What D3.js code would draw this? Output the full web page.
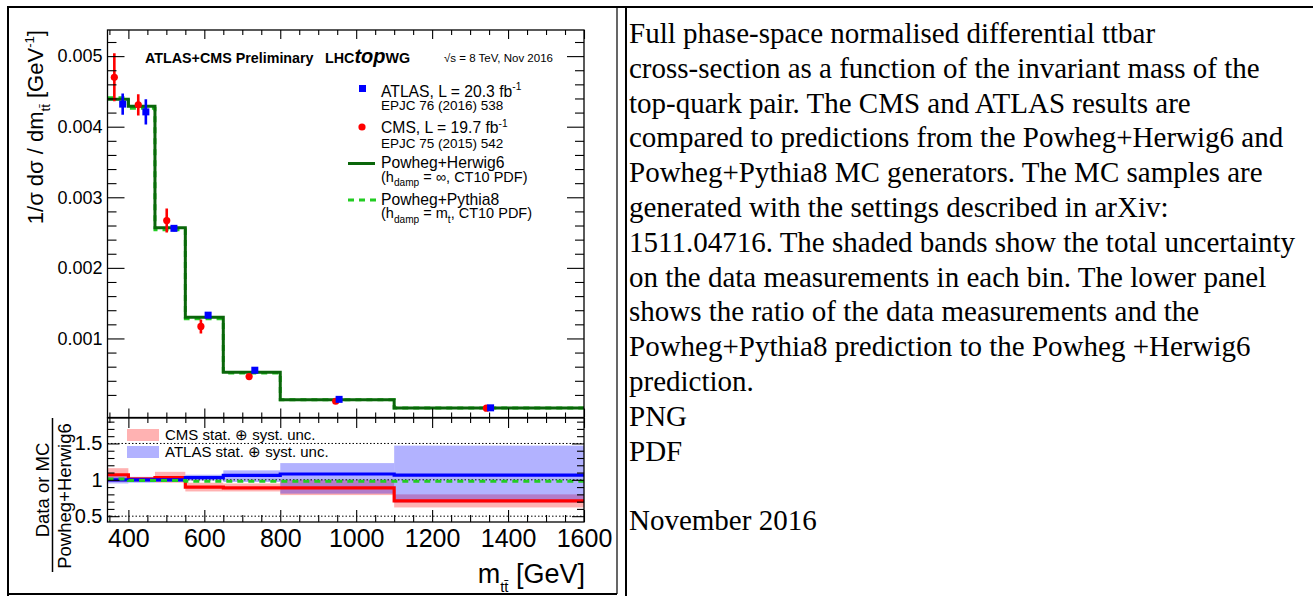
<!DOCTYPE html>
<html>
<head>
<meta charset="utf-8">
<script src="https://cdn.jsdelivr.net/npm/d3@7"></script>
<style>
  body { margin: 0; background: #fff; }
  svg { display: block; }
  text { font-family: "Liberation Sans", Arial, sans-serif; fill: #000; }
  .caption text { font-family: "Liberation Serif", "Times New Roman", serif; }
</style>
</head>
<body>
<svg id="page" width="1313" height="596"></svg>
<script>
// m(ttbar) bins and values
var binEdges = [345, 400, 470, 550, 650, 800, 1100, 1600];
var herwig = [0.00439, 0.00429, 0.00257, 0.00130, 0.00052, 0.000133, 0.000016];
var pythia = [0.00441, 0.00426, 0.00254, 0.00128, 0.00051, 0.000130, 0.000015];

var atlasX = [385, 446, 520, 610, 733, 955, 1354];
var atlasY = [0.00432, 0.00421, 0.00256, 0.00133, 0.00055, 0.000137, 0.000017];
var atlasErr = [0.00015, 0.00018, 0.00004, 0.00003, 0.00002, 0.00001, 0.000003];

var cmsX = [363, 426, 501, 591, 718, 946, 1343];
var cmsY = [0.00470, 0.00431, 0.00267, 0.00117, 0.00046, 0.00011, 0.000012];
var cmsErr = [0.00034, 0.00015, 0.00017, 0.00010, 0.00002, 0.00001, 0.000002];

// ratio panel (data or MC / Powheg+Herwig6)
var cmsRatio = [1.07, 1.01, 1.03, 0.90, 0.89, 0.89, 0.71];
var cmsLo = [0.97, 0.97, 0.96, 0.84, 0.84, 0.79, 0.62];
var cmsHi = [1.16, 1.04, 1.11, 0.96, 0.95, 1.00, 0.80];
var atlasRatio = [1.00, 1.00, 1.00, 1.03, 1.06, 1.08, 1.065];
var atlasLo = [0.95, 0.96, 0.97, 0.99, 0.97, 0.81, 0.69];
var atlasHi = [1.05, 1.04, 1.03, 1.07, 1.13, 1.23, 1.47];
var pythiaRatio = [1.01, 0.99, 0.99, 0.98, 0.98, 0.98, 0.98];

var topTicks = [0.001, 0.002, 0.003, 0.004, 0.005];
var ratioTicks = [0.5, 1, 1.5];
var massTicks = [400, 600, 800, 1000, 1200, 1400, 1600];

var captionLines = [
  "Full phase-space normalised differential ttbar",
  "cross-section as a function of the invariant mass of the",
  "top-quark pair. The CMS and ATLAS results are",
  "compared to predictions from the Powheg+Herwig6 and",
  "Powheg+Pythia8 MC generators. The MC samples are",
  "generated with the settings described in arXiv:",
  "1511.04716. The shaded bands show the total uncertainty",
  "on the data measurements in each bin. The lower panel",
  "shows the ratio of the data measurements and the",
  "Powheg+Pythia8 prediction to the Powheg +Herwig6",
  "prediction.",
  "PNG",
  "PDF",
  "",
  "November 2016"
];

var RED = "#ff0000", BLUE = "#0000ff", DKGREEN = "#0a660a", LTGREEN = "#22cc22";

var svg = d3.select("#page");

// table cell borders
var frame = svg.append("g").attr("stroke", "#000").attr("fill", "none");
frame.append("path").attr("stroke-width", 2).attr("d", "M8,596V7H1313");
frame.append("path").attr("stroke-width", 2).attr("d", "M8,594H617");
frame.append("path").attr("stroke-width", 1.2).attr("d", "M617,7V594");
frame.append("path").attr("stroke-width", 2).attr("d", "M626,7V596");

// scales
var x = d3.scaleLinear().domain([345, 1600]).range([107.5, 584]);
var yTop = d3.scaleLinear().domain([-0.00012, 0.00537]).range([417.5, 30]);
var yRat = d3.scaleLinear().domain([0.42, 1.85]).range([522, 418]);

var defs = svg.append("defs");
defs.append("clipPath").attr("id", "clipTop").append("rect")
  .attr("x", x.range()[0]).attr("y", yTop.range()[1])
  .attr("width", x.range()[1] - x.range()[0]).attr("height", yTop.range()[0] - yTop.range()[1]);
defs.append("clipPath").attr("id", "clipRat").append("rect")
  .attr("x", x.range()[0]).attr("y", yRat.range()[1])
  .attr("width", x.range()[1] - x.range()[0]).attr("height", yRat.range()[0] - yRat.range()[1]);

function stepPoints(vals) {
  var pts = vals.map(function(v, i) { return [binEdges[i], v]; });
  pts.push([binEdges[binEdges.length - 1], vals[vals.length - 1]]);
  return pts;
}

function richText(g, px, py, parts, size, anchor) {
  var t = g.append("text").attr("x", px).attr("y", py)
    .attr("font-size", size).attr("text-anchor", anchor || "start");
  var shift = 0;
  parts.forEach(function(p) {
    var target = p.sup ? -0.42 * size : (p.sub ? 0.32 * size : 0);
    var ts = t.append("tspan").text(p.t).attr("dy", target - shift);
    shift = target;
    if (p.sup || p.sub) ts.attr("font-size", size * (p.scale || 0.65));
    if (p.bold) ts.attr("font-weight", "bold");
    if (p.italic) ts.attr("font-style", "italic");
    if (p.size) ts.attr("font-size", p.size);
  });
  return t;
}

function tickAxis(g, axis, vals, size, fmt, pad) {
  g.call(axis.tickValues(vals).tickSize(size).tickPadding(pad || 3).tickFormat(fmt || ""));
  g.select(".domain").remove();
  g.selectAll(".tick line").attr("stroke", "#000").attr("stroke-width", 1.1);
  return g;
}

var minorMass = d3.range(350, 1601, 50).filter(function(v) { return v % 200 !== 0; });
var minorTop = d3.range(0, 0.0053, 0.0002).filter(function(v) { return Math.abs(v * 1000 - Math.round(v * 1000)) > 1e-6; });
var minorRat = d3.range(0.5, 1.81, 0.1).filter(function(v) { return Math.abs(v * 2 - Math.round(v * 2)) > 1e-6; });

// ---------- upper panel ----------
var upper = svg.append("g");
var upperPlot = upper.append("g").attr("clip-path", "url(#clipTop)");

var lineTop = d3.line().curve(d3.curveStepAfter)
  .x(function(d) { return x(d[0]); }).y(function(d) { return yTop(d[1]); });

upperPlot.append("path").attr("d", lineTop(stepPoints(pythia)))
  .attr("fill", "none").attr("stroke", LTGREEN).attr("stroke-width", 3).attr("stroke-dasharray", "6,5");
upperPlot.append("path").attr("d", lineTop(stepPoints(herwig)))
  .attr("fill", "none").attr("stroke", DKGREEN).attr("stroke-width", 3);

// CMS points
upperPlot.selectAll(".cmsErr").data(cmsY).enter().append("line")
  .attr("x1", function(d, i) { return x(cmsX[i]); }).attr("x2", function(d, i) { return x(cmsX[i]); })
  .attr("y1", function(d, i) { return yTop(d + cmsErr[i]); }).attr("y2", function(d, i) { return yTop(d - cmsErr[i]); })
  .attr("stroke", RED).attr("stroke-width", 2.6);
upperPlot.selectAll(".cmsPt").data(cmsY).enter().append("circle")
  .attr("cx", function(d, i) { return x(cmsX[i]); }).attr("cy", function(d) { return yTop(d); })
  .attr("r", 3.6).attr("fill", RED);

// ATLAS points
upperPlot.selectAll(".atlErr").data(atlasY).enter().append("line")
  .attr("x1", function(d, i) { return x(atlasX[i]); }).attr("x2", function(d, i) { return x(atlasX[i]); })
  .attr("y1", function(d, i) { return yTop(d + atlasErr[i]); }).attr("y2", function(d, i) { return yTop(d - atlasErr[i]); })
  .attr("stroke", BLUE).attr("stroke-width", 2.6);
upperPlot.selectAll(".atlPt").data(atlasY).enter().append("rect")
  .attr("x", function(d, i) { return x(atlasX[i]) - 3.5; }).attr("y", function(d) { return yTop(d) - 3.5; })
  .attr("width", 7).attr("height", 7).attr("fill", BLUE);

// axes of upper panel
tickAxis(upper.append("g").attr("transform", "translate(" + x.range()[0] + ",0)"), d3.axisLeft(yTop), minorTop, -9);
tickAxis(upper.append("g").attr("transform", "translate(" + x.range()[0] + ",0)"), d3.axisLeft(yTop), topTicks, -17, d3.format(".3f"), 5)
  .selectAll("text").attr("font-size", 18);
tickAxis(upper.append("g").attr("transform", "translate(" + x.range()[1] + ",0)"), d3.axisRight(yTop), minorTop, -9);
tickAxis(upper.append("g").attr("transform", "translate(" + x.range()[1] + ",0)"), d3.axisRight(yTop), topTicks, -17);
tickAxis(upper.append("g").attr("transform", "translate(0," + yTop.range()[1] + ")"), d3.axisTop(x), minorMass, -5);
tickAxis(upper.append("g").attr("transform", "translate(0," + yTop.range()[1] + ")"), d3.axisTop(x), massTicks, -9);
tickAxis(upper.append("g").attr("transform", "translate(0," + yTop.range()[0] + ")"), d3.axisBottom(x), minorMass, -5);
tickAxis(upper.append("g").attr("transform", "translate(0," + yTop.range()[0] + ")"), d3.axisBottom(x), massTicks, -9);
upper.append("rect").attr("x", x.range()[0]).attr("y", yTop.range()[1])
  .attr("width", x.range()[1] - x.range()[0]).attr("height", yTop.range()[0] - yTop.range()[1])
  .attr("fill", "none").attr("stroke", "#000").attr("stroke-width", 1.3);

// y title
richText(upper.append("g").attr("transform", "translate(43,30) rotate(-90)"), 0, 0, [
  { t: "1/\u03c3 d\u03c3 / dm" }, { t: "tt\u0304", sub: true, scale: 0.6 },
  { t: " [GeV" }, { t: "-1", sup: true, scale: 0.6 }, { t: "]" }
], 22, "end");

// header
richText(upper, 145, 63, [{ t: "ATLAS+CMS Preliminary", bold: true }], 14.3);
richText(upper, 325, 63, [{ t: "LHC", bold: true }, { t: "top", bold: true, italic: true, size: 20 }, { t: "WG", bold: true }], 14.3);
richText(upper, 444, 62, [{ t: "\u221as = 8 TeV, Nov 2016" }], 11.5);

// legend
var leg = upper.append("g");
leg.append("rect").attr("x", 359).attr("y", 85).attr("width", 7).attr("height", 7).attr("fill", BLUE);
richText(leg, 381, 96.5, [{ t: "ATLAS, L = 20.3 fb" }, { t: "-1", sup: true }], 15.7);
richText(leg, 381, 110, [{ t: "EPJC 76 (2016) 538" }], 13.5);
leg.append("circle").attr("cx", 362).attr("cy", 127).attr("r", 3.6).attr("fill", RED);
richText(leg, 381, 133.3, [{ t: "CMS, L = 19.7 fb" }, { t: "-1", sup: true }], 15.7);
richText(leg, 381, 147.7, [{ t: "EPJC 75 (2015) 542" }], 13.5);
leg.append("line").attr("x1", 348).attr("x2", 375).attr("y1", 163.5).attr("y2", 163.5)
  .attr("stroke", DKGREEN).attr("stroke-width", 3);
richText(leg, 381, 168.3, [{ t: "Powheg+Herwig6" }], 15.7);
richText(leg, 381, 181.7, [{ t: "(h" }, { t: "damp", sub: true, scale: 0.7 }, { t: " = \u221e, CT10 PDF)" }], 14.5);
leg.append("line").attr("x1", 348).attr("x2", 377).attr("y1", 200).attr("y2", 200)
  .attr("stroke", LTGREEN).attr("stroke-width", 3).attr("stroke-dasharray", "6,5");
richText(leg, 381, 204.5, [{ t: "Powheg+Pythia8" }], 15.7);
richText(leg, 381, 218, [{ t: "(h" }, { t: "damp", sub: true, scale: 0.7 }, { t: " = m" }, { t: "t", sub: true, scale: 0.7 }, { t: ", CT10 PDF)" }], 14.5);

// ---------- ratio panel ----------
var bot = svg.append("g");
var botPlot = bot.append("g").attr("clip-path", "url(#clipRat)");
var bins = d3.range(binEdges.length - 1);

botPlot.selectAll(".cmsBand").data(bins).enter().append("rect")
  .attr("x", function(i) { return x(binEdges[i]); })
  .attr("width", function(i) { return x(binEdges[i + 1]) - x(binEdges[i]); })
  .attr("y", function(i) { return yRat(cmsHi[i]); })
  .attr("height", function(i) { return yRat(cmsLo[i]) - yRat(cmsHi[i]); })
  .attr("fill", RED).attr("fill-opacity", 0.3);
botPlot.selectAll(".atlBand").data(bins).enter().append("rect")
  .attr("x", function(i) { return x(binEdges[i]); })
  .attr("width", function(i) { return x(binEdges[i + 1]) - x(binEdges[i]); })
  .attr("y", function(i) { return yRat(atlasHi[i]); })
  .attr("height", function(i) { return yRat(atlasLo[i]) - yRat(atlasHi[i]); })
  .attr("fill", BLUE).attr("fill-opacity", 0.3);

botPlot.selectAll(".ref").data(ratioTicks).enter().append("line")
  .attr("x1", x.range()[0]).attr("x2", x.range()[1])
  .attr("y1", function(d) { return yRat(d); }).attr("y2", function(d) { return yRat(d); })
  .attr("stroke", "#000").attr("stroke-width", 1).attr("stroke-dasharray", "1.5,2");

var lineRat = d3.line().curve(d3.curveStepAfter)
  .x(function(d) { return x(d[0]); }).y(function(d) { return yRat(d[1]); });
botPlot.append("path").attr("d", lineRat(stepPoints(cmsRatio)))
  .attr("fill", "none").attr("stroke", RED).attr("stroke-width", 3.2);
botPlot.append("path").attr("d", lineRat(stepPoints(atlasRatio)))
  .attr("fill", "none").attr("stroke", BLUE).attr("stroke-width", 3.2);
botPlot.append("path").attr("d", lineRat(stepPoints(pythiaRatio)))
  .attr("fill", "none").attr("stroke", LTGREEN).attr("stroke-width", 3).attr("stroke-dasharray", "6,5");

// axes of ratio panel
tickAxis(bot.append("g").attr("transform", "translate(" + x.range()[0] + ",0)"), d3.axisLeft(yRat), minorRat, -7);
tickAxis(bot.append("g").attr("transform", "translate(" + x.range()[0] + ",0)"), d3.axisLeft(yRat), ratioTicks, -12, function(d) { return String(d); }, 5)
  .selectAll("text").attr("font-size", 20);
tickAxis(bot.append("g").attr("transform", "translate(" + x.range()[1] + ",0)"), d3.axisRight(yRat), minorRat, -7);
tickAxis(bot.append("g").attr("transform", "translate(" + x.range()[1] + ",0)"), d3.axisRight(yRat), ratioTicks, -12);
tickAxis(bot.append("g").attr("transform", "translate(0," + yRat.range()[1] + ")"), d3.axisTop(x), minorMass, -5);
tickAxis(bot.append("g").attr("transform", "translate(0," + yRat.range()[1] + ")"), d3.axisTop(x), massTicks, -10);
tickAxis(bot.append("g").attr("transform", "translate(0," + yRat.range()[0] + ")"), d3.axisBottom(x), minorMass, -7);
tickAxis(bot.append("g").attr("transform", "translate(0," + yRat.range()[0] + ")"), d3.axisBottom(x), massTicks, -12, d3.format("d"), 7)
  .selectAll("text").attr("font-size", 25);
bot.append("rect").attr("x", x.range()[0]).attr("y", yRat.range()[1])
  .attr("width", x.range()[1] - x.range()[0]).attr("height", yRat.range()[0] - yRat.range()[1])
  .attr("fill", "none").attr("stroke", "#000").attr("stroke-width", 1.3);

// ratio legend
bot.append("rect").attr("x", 127).attr("y", 429).attr("width", 32).attr("height", 12).attr("fill", RED).attr("fill-opacity", 0.3);
richText(bot, 165, 439.5, [{ t: "CMS stat. \u2295 syst. unc." }], 15);
bot.append("rect").attr("x", 127).attr("y", 446).attr("width", 32).attr("height", 12).attr("fill", BLUE).attr("fill-opacity", 0.3);
richText(bot, 165, 456.5, [{ t: "ATLAS stat. \u2295 syst. unc." }], 15);

// ratio y title (fraction)
var frac = bot.append("g");
richText(frac.append("g").attr("transform", "translate(49,490) rotate(-90)"), 0, 0, [{ t: "Data or MC" }], 18.5, "middle");
richText(frac.append("g").attr("transform", "translate(71,496) rotate(-90)"), 0, 0, [{ t: "Powheg+Herwig6" }], 18.5, "middle");
frac.append("line").attr("x1", 52.5).attr("x2", 52.5).attr("y1", 418).attr("y2", 572)
  .attr("stroke", "#000").attr("stroke-width", 1.5);

// x title
richText(bot, 585, 583, [{ t: "m" }, { t: "tt\u0304", sub: true, scale: 0.55 }, { t: " [GeV]" }], 27, "end");

// ---------- caption cell ----------
var cap = svg.append("g").attr("class", "caption");
cap.selectAll("text").data(captionLines).enter().append("text")
  .attr("x", 629).attr("y", function(d, i) { return 43 + i * 34.8; })
  .attr("font-size", 29).text(function(d) { return d; });
</script>
</body>
</html>
